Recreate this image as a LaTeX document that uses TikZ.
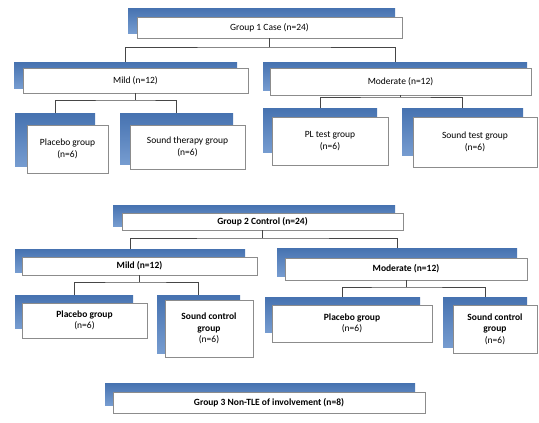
\documentclass[tikz,border=0pt]{standalone}
\usepackage{fontspec}
\setmainfont{Carlito}
\usetikzlibrary{fit,calc}
\definecolor{bluetop}{RGB}{70,114,176}
\definecolor{bluebot}{RGB}{118,156,208}
\definecolor{frameg}{RGB}{140,140,140}
\definecolor{lineg}{RGB}{70,70,70}
\tikzset{
  backbox/.style={draw=none, top color=bluetop, bottom color=bluebot, inner sep=0pt},
  frontbox/.style={draw=frameg, fill=white, line width=0.7pt, inner sep=0pt},
  lbl/.style={font=\fontsize{9.5}{11.5}\selectfont, align=center},
  blbl/.style={font=\bfseries\fontsize{9.5}{11.5}\selectfont, align=center},
  conn/.style={draw=lineg, line width=0.8pt},
}
% name, back x1 y1 x2 y2, front x1 y1 x2 y2
\newcommand\twobox[9]{%
  \node[backbox, fit={(#2,#3) (#4,#5)}] (#1b) {};
  \node[frontbox, fit={(#6,#7) (#8,#9)}] (#1) {};
}
\begin{document}
\begin{tikzpicture}[x=1pt,y=-1pt]
\useasboundingbox (0,0) rectangle (539,423);
% ---------- Group 1 ----------
\twobox{top}{128}{8}{395}{33}{137}{17}{402}{38}
\node[lbl] at (top) {Group 1 Case (n=24)};
\twobox{mild}{14}{62}{237}{88}{23}{68}{248}{93}
\node[lbl] at (mild) {Mild (n=12)};
\twobox{mod}{263}{62}{527}{90}{270}{68}{531}{95}
\node[lbl] at (mod) {Moderate (n=12)};
\twobox{pa}{15}{113}{95}{166}{27}{125}{108}{173}
\node[lbl] at (pa) {Placebo group\\(n=6)};
\twobox{pb}{120}{113}{233}{164}{130}{125}{245}{169}
\node[lbl] at (pb) {Sound therapy group\\(n=6)};
\twobox{pc}{263}{108}{377}{152}{272}{117}{388}{165}
\node[lbl] at (pc) {PL test group\\(n=6)};
\twobox{pd}{402}{108}{523}{155}{413}{117}{537}{167}
\node[lbl] at (pd) {Sound test group\\(n=6)};
\coordinate (j1) at (268,47);
\coordinate (j2) at (135,100);
\coordinate (j3) at (400,97);
\draw[conn] (top.south) -- (top.south |- j1);
\draw[conn] (mildb.north) |- (j1) -| (modb.north);
\draw[conn] (mild.south) -- (mild.south |- j2);
\draw[conn] (pab.north) |- (j2) -| (pbb.north);
\draw[conn] (mod.south) -- (mod.south |- j3);
\draw[conn] (pcb.north) |- (j3) -| (pdb.north);
% ---------- Group 2 ----------
\twobox{top2}{113}{205}{395}{226}{122}{213}{403}{230}
\node[blbl] at (top2) {Group 2 Control (n=24)};
\twobox{mildc}{15}{249}{245}{272}{22}{257}{257}{275}
\node[blbl] at (mildc) {Mild (n=12)};
\twobox{modc}{277}{248}{517}{276}{285}{258}{527}{280}
\node[blbl] at (modc) {Moderate (n=12)};
\twobox{qa}{15}{295}{133}{328}{22}{303}{147}{338}
\node[blbl] at (qa) {Placebo group\\\mdseries(n=6)};
\twobox{qb}{157}{295}{240}{353}{165}{300}{253}{357}
\node[blbl] at (qb) {Sound control\\group\\\mdseries(n=6)};
\twobox{qc}{265}{297}{420}{332}{272}{305}{432}{342}
\node[blbl] at (qc) {Placebo group\\\mdseries(n=6)};
\twobox{qd}{443}{297}{527}{347}{453}{305}{537}{353}
\node[blbl] at (qd) {Sound control\\group\\\mdseries(n=6)};
\coordinate (k1) at (262,238);
\coordinate (k2) at (135,282);
\coordinate (k3) at (400,287);
\draw[conn] (top2.south) -- (top2.south |- k1);
\draw[conn] (mildcb.north) |- (k1) -| (modcb.north);
\draw[conn] (mildc.south) -- (mildc.south |- k2);
\draw[conn] (qab.north) |- (k2) -| (qbb.north);
\draw[conn] (modc.south) -- (modc.south |- k3);
\draw[conn] (qcb.north) |- (k3) -| (qdb.north);
% ---------- Group 3 ----------
\twobox{g3}{105}{383}{415}{405}{113}{392}{425}{413}
\node[blbl] at (g3) {Group 3 Non-TLE of involvement (n=8)};
\end{tikzpicture}
\end{document}
